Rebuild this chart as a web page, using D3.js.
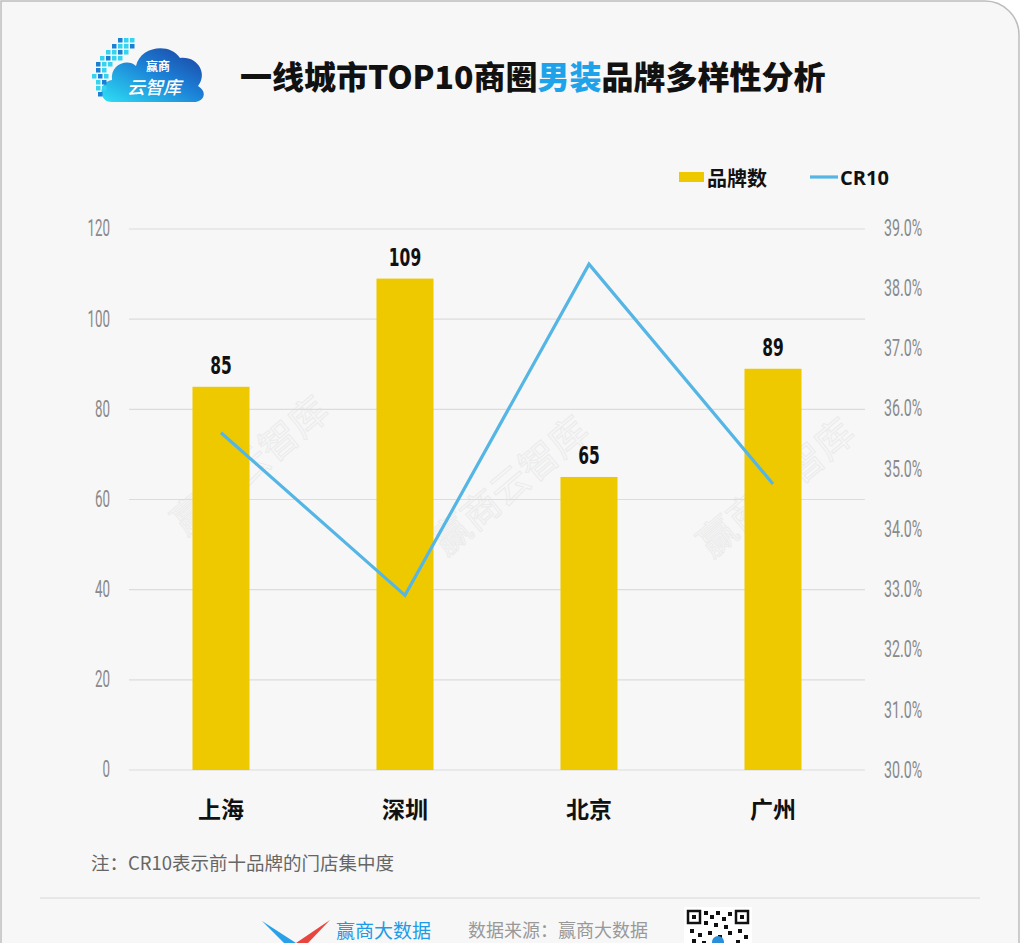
<!DOCTYPE html>
<html><head><meta charset="utf-8">
<script src="https://cdn.jsdelivr.net/npm/d3@7/dist/d3.min.js"></script>
<style>html,body{margin:0;padding:0;background:#fff;}svg{display:block;}</style>
</head><body>
<svg id="chart" width="1020" height="943"></svg>
<script>
const cities = ["上海", "深圳", "北京", "广州"];
const brandCounts = [85, 109, 65, 89];
const cr10 = [35.6, 32.9, 38.4, 34.75];
const leftTicks = [0, 20, 40, 60, 80, 100, 120];
const rightTicks = [30, 31, 32, 33, 34, 35, 36, 37, 38, 39];

const svg = d3.select("#chart");
const W = 1020, H = 943;
const cjk = "'Noto Sans CJK SC','Noto Sans',sans-serif";

// card background
svg.append("path")
  .attr("d", `M1,${H+2} V1 H985 A34,34 0 0 1 1019,35 V${H+2}`)
  .attr("fill", "#f7f7f7").attr("stroke", "#bdbdbd").attr("stroke-width", 1.5);

// watermarks
[[252, 468], [512, 488], [778, 490]].forEach(([x, y]) => {
  svg.append("text").attr("transform", `translate(${x},${y}) rotate(-40)`)
    .attr("text-anchor", "middle").attr("dominant-baseline", "middle")
    .attr("font-family", cjk).attr("font-size", 38)
    .attr("fill", "none").attr("stroke", "#ebebeb").attr("stroke-width", 1)
    .text("赢商云智库");
});

// scales
const x = d3.scaleBand().domain(cities).range([129, 865]).paddingInner(0.69).paddingOuter(0.345);
const yL = d3.scaleLinear().domain([0, 120]).range([770, 229]);
const yR = d3.scaleLinear().domain([30, 39]).range([770, 228]);

// gridlines
svg.append("g").selectAll("line").data(leftTicks).join("line")
  .attr("x1", 129).attr("x2", 865)
  .attr("y1", d => yL(d)).attr("y2", d => yL(d))
  .attr("stroke", "#dcdcdc").attr("stroke-width", 1.2);

// condensed text helper
function ctext(g, px, py, txt, opts) {
  const gg = g.append("g").attr("transform", `translate(${px},${py}) scale(${opts.sx || 0.7},1)`);
  gg.append("text").attr("text-anchor", opts.anchor || "middle")
    .attr("dominant-baseline", "central")
    .attr("font-family", opts.family || "Roboto, 'DejaVu Sans', sans-serif")
    .attr("font-weight", opts.weight || 400)
    .attr("font-size", opts.size || 18)
    .attr("fill", opts.fill || "#888")
    .text(txt);
  return gg;
}

// left axis labels
const axL = svg.append("g");
leftTicks.forEach(t => ctext(axL, 110, yL(t), String(t), {anchor: "end", size: 23, weight: 400, sx: 0.58, fill: "#8a8a8a"}));
// right axis labels
const axR = svg.append("g");
rightTicks.forEach(t => ctext(axR, 884, yR(t), t.toFixed(1) + "%", {anchor: "start", size: 23, weight: 400, sx: 0.62, fill: "#8a8a8a"}));

// bars
svg.append("g").selectAll("rect").data(cities).join("rect")
  .attr("x", d => x(d)).attr("width", x.bandwidth())
  .attr("y", (d, i) => yL(brandCounts[i]))
  .attr("height", (d, i) => yL(0) - yL(brandCounts[i]))
  .attr("fill", "#eec900");

// bar labels
const bl = svg.append("g");
cities.forEach((c, i) => ctext(bl, x(c) + x.bandwidth() / 2, yL(brandCounts[i]) - 21, String(brandCounts[i]),
  {size: 25, weight: 700, sx: 0.62, fill: "#111", family: "'DejaVu Sans', sans-serif"}));

// line
const line = d3.line().x((d, i) => x(cities[i]) + x.bandwidth() / 2).y(d => yR(d));
svg.append("path").datum(cr10).attr("d", line)
  .attr("fill", "none").attr("stroke", "#55b5e5").attr("stroke-width", 3.2)
  .attr("stroke-linejoin", "miter");

// category labels
svg.append("g").selectAll("text").data(cities).join("text")
  .attr("x", d => x(d) + x.bandwidth() / 2).attr("y", 808)
  .attr("text-anchor", "middle").attr("dominant-baseline", "central")
  .attr("font-family", cjk).attr("font-weight", 700).attr("font-size", 23)
  .attr("fill", "#111").text(d => d);

// legend
const lg = svg.append("g");
lg.append("rect").attr("x", 679).attr("y", 172).attr("width", 25).attr("height", 10).attr("fill", "#eec900");
lg.append("text").attr("x", 707).attr("y", 177).attr("dominant-baseline", "central")
  .attr("font-family", cjk).attr("font-weight", 700).attr("font-size", 20).attr("fill", "#111").text("品牌数");
lg.append("line").attr("x1", 810).attr("x2", 838).attr("y1", 177).attr("y2", 177)
  .attr("stroke", "#55b5e5").attr("stroke-width", 3.2);
lg.append("text").attr("x", 840).attr("y", 177).attr("dominant-baseline", "central")
  .attr("font-family", "'Open Sans','Noto Sans',sans-serif").attr("font-weight", 700).attr("font-size", 20).attr("fill", "#111").text("CR10");

// title
const title = svg.append("text").attr("x", 240).attr("y", 75).attr("dominant-baseline", "central")
  .attr("font-family", cjk).attr("font-weight", 900).attr("font-size", 32).attr("fill", "#111");
title.append("tspan").text("一线城市TOP10商圈");
title.append("tspan").attr("fill", "#1ea3ea").text("男装");
title.append("tspan").text("品牌多样性分析");

// top-left logo
const defs = svg.append("defs");
const grad = defs.append("linearGradient").attr("id", "lg1").attr("x1", "0").attr("y1", "1").attr("x2", "1").attr("y2", "0");
grad.append("stop").attr("offset", "0").attr("stop-color", "#2ee0f5");
grad.append("stop").attr("offset", "0.55").attr("stop-color", "#1b7fd6");
grad.append("stop").attr("offset", "1").attr("stop-color", "#1c3e9c");
const logo = svg.append("g");
logo.append("path")
  .attr("d", "M112,102 C98,102 98,82 112,80 C110,64 128,58 136,66 C140,46 170,42 180,58 C198,56 208,74 198,86 C208,92 204,102 194,102 Z")
  .attr("fill", "url(#lg1)");
const px = [[118,38],[124,38],[130,38],[112,44],[118,44],[124,44],[130,44],[106,50],[112,50],[118,50],[124,50],[100,56],[106,56],[112,56],[118,56],[96,62],[102,62],[108,62],[96,68],[102,68],[92,74],[98,74],[104,74],[96,80],[102,80],[96,86],[102,86],[98,92]];
logo.selectAll("rect.px").data(px).join("rect").attr("class", "px")
  .attr("x", d => d[0]).attr("y", d => d[1]).attr("width", 4.5).attr("height", 4.5)
  .attr("fill", (d, i) => i % 3 === 0 ? "#1b7fd6" : "#34d3ef");
logo.append("text").attr("x", 158).attr("y", 65).attr("text-anchor", "middle").attr("dominant-baseline", "central")
  .attr("font-family", cjk).attr("font-weight", 700).attr("font-size", 12).attr("fill", "#fff").text("赢商");
logo.append("text").attr("x", 154).attr("y", 86).attr("text-anchor", "middle").attr("dominant-baseline", "central")
  .attr("font-family", cjk).attr("font-weight", 500).attr("font-size", 18).attr("font-style", "italic").attr("fill", "#fff").text("云智库");

// note
svg.append("text").attr("x", 91).attr("y", 862).attr("dominant-baseline", "central")
  .attr("font-family", cjk).attr("font-size", 18.5).attr("fill", "#666").text("注：CR10表示前十品牌的门店集中度");

// separator
svg.append("line").attr("x1", 40).attr("x2", 980).attr("y1", 898).attr("y2", 898)
  .attr("stroke", "#e2e2e2").attr("stroke-width", 1.5);

// footer
const ft = svg.append("g");
ft.append("polygon").attr("points", "262,921 296,943 284,943").attr("fill", "#2aa0e8");
ft.append("polygon").attr("points", "330,920 296,943 308,943").attr("fill", "#e8453c");
ft.append("text").attr("x", 336).attr("y", 929).attr("dominant-baseline", "central")
  .attr("font-family", cjk).attr("font-size", 19).attr("fill", "#1e9be6").text("赢商大数据");
ft.append("text").attr("x", 468).attr("y", 929).attr("dominant-baseline", "central")
  .attr("font-family", cjk).attr("font-size", 18).attr("fill", "#999").text("数据来源：赢商大数据");
ft.append("rect").attr("x", 684).attr("y", 907).attr("width", 68).attr("height", 40).attr("fill", "#fff");
[[688, 911], [736, 911]].forEach(([qx, qy]) => {
  ft.append("rect").attr("x", qx).attr("y", qy).attr("width", 12).attr("height", 12).attr("fill", "none").attr("stroke", "#111").attr("stroke-width", 2.5);
  ft.append("rect").attr("x", qx + 4).attr("y", qy + 4).attr("width", 4).attr("height", 4).attr("fill", "#111");
});
const qr = [[704,911],[710,915],[716,911],[722,917],[728,912],[704,921],[714,923],[724,925],[690,929],[698,933],[708,931],[718,935],[728,931],[738,929],[744,935],[692,939],[702,941],[736,940]];
ft.selectAll("rect.qr").data(qr).join("rect").attr("class", "qr")
  .attr("x", d => d[0]).attr("y", d => d[1]).attr("width", 4).attr("height", 4).attr("fill", "#111");
ft.append("circle").attr("cx", 718).attr("cy", 942).attr("r", 6).attr("fill", "#2a8fd8");
</script>
</body></html>
